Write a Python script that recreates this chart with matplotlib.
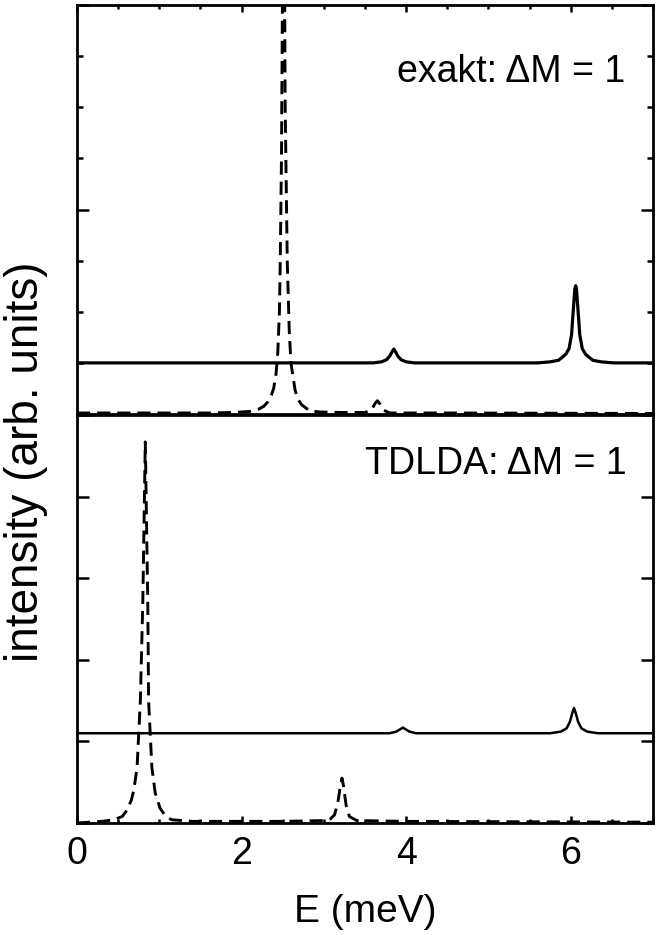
import matplotlib
matplotlib.use("Agg")
import matplotlib.pyplot as plt
from matplotlib.ticker import MultipleLocator

plt.rcParams["font.family"] = ["Liberation Sans", "DejaVu Sans"]

# exakt, dashed curve (E in meV, intensity)
exakt_dash_E = [0.0, 1.0, 1.6, 1.9, 2.1, 2.2, 2.27, 2.32, 2.36, 2.39, 2.42, 2.44, 2.46,
                2.47, 2.485, 2.50, 2.51, 2.52, 2.53, 2.555, 2.58, 2.60, 2.65, 2.68,
                2.73, 2.83, 2.95, 3.2, 3.5, 3.58, 3.62, 3.65, 3.68, 3.72, 3.8, 4.5, 7.0]
exakt_dash_I = [0.02, 0.02, 0.02, 0.03, 0.05, 0.09, 0.15, 0.24, 0.36, 0.5, 0.8, 1.2, 2.0,
                3.0, 5.0, 9.0, 10.0, 9.5, 6.0, 3.0, 1.6, 1.0, 0.47, 0.3,
                0.18, 0.06, 0.04, 0.03, 0.03, 0.08, 0.2, 0.26, 0.2, 0.08, 0.02, 0.02, 0.01]

# exakt, solid curve
exakt_solid_E = [0.0, 3.60, 3.70, 3.76, 3.80, 3.83, 3.85, 3.87, 3.90, 3.94, 4.00, 4.10,
                 5.60, 5.75, 5.85, 5.89, 5.94, 5.98, 6.01, 6.03, 6.05, 6.06, 6.07,
                 6.09, 6.11, 6.14, 6.18, 6.23, 6.27, 6.37, 6.52, 7.0]
exakt_solid_I = [1.0, 1.0, 1.02, 1.06, 1.13, 1.22, 1.27, 1.22, 1.13, 1.06, 1.02, 1.0,
                 1.0, 1.02, 1.05, 1.10, 1.17, 1.28, 1.55, 2.0, 2.45, 2.51, 2.45,
                 2.0, 1.55, 1.28, 1.17, 1.10, 1.05, 1.02, 1.0, 1.0]

# TDLDA, dashed curve
tdlda_dash_E = [0.0, 0.3, 0.45, 0.55, 0.61, 0.66, 0.69, 0.73, 0.77, 0.80, 0.83, 0.86,
                0.87, 0.91, 0.95, 1.01, 1.08, 1.15, 1.4, 2.5, 3.0, 3.08, 3.13, 3.17,
                3.20, 3.22, 3.24, 3.27, 3.31, 3.4, 4.0, 7.0]
tdlda_dash_I = [0.0, 0.02, 0.04, 0.08, 0.16, 0.28, 0.4, 0.68, 1.5, 2.72, 4.67, 2.72,
                1.5, 0.68, 0.37, 0.18, 0.08, 0.04, 0.02, 0.02, 0.03, 0.05, 0.1, 0.25,
                0.45, 0.55, 0.45, 0.22, 0.08, 0.03, 0.02, 0.01]

# TDLDA, solid curve
tdlda_solid_E = [0.0, 3.80, 3.88, 3.93, 3.96, 3.99, 4.04, 4.12, 5.75, 5.88, 5.95, 5.99,
                 6.02, 6.04, 6.06, 6.09, 6.13, 6.20, 6.33, 7.0]
tdlda_solid_I = [1.1, 1.1, 1.12, 1.15, 1.17, 1.15, 1.12, 1.1, 1.1, 1.12, 1.16, 1.24,
                 1.35, 1.41, 1.35, 1.24, 1.16, 1.12, 1.1, 1.1]

panel_labels = ["exakt: \u0394M = 1", "TDLDA: \u0394M = 1"]

DASH = (0, (4.5, 2.4))

fig = plt.figure(figsize=(6.66, 9.35), dpi=100)
ax_top = fig.add_axes([77 / 666, 1 - 414 / 935, 576 / 666, 409 / 935])
ax_bot = fig.add_axes([77 / 666, 1 - 823 / 935, 576 / 666, 408 / 935], sharex=ax_top)

# ─── top panel: exact ─────────────────────
ax_top.plot(exakt_dash_E, exakt_dash_I, color="black", lw=2.1, linestyle=DASH)
ax_top.plot(exakt_solid_E, exakt_solid_I, color="black", lw=2.3)
ax_top.set_ylim(0, 8)
ax_top.yaxis.set_major_locator(MultipleLocator(4))
ax_top.yaxis.set_minor_locator(MultipleLocator(1))
ax_top.text(0.952, 0.835, panel_labels[0], transform=ax_top.transAxes,
            ha="right", va="center", fontsize=27)

# ─── bottom panel: TDLDA ──────────────────
ax_bot.plot(tdlda_dash_E, tdlda_dash_I, color="black", lw=2.1, linestyle=DASH)
ax_bot.plot(tdlda_solid_E, tdlda_solid_I, color="black", lw=1.8)
ax_bot.set_ylim(0, 5)
ax_bot.yaxis.set_major_locator(MultipleLocator(1))
ax_bot.text(0.955, 0.88, panel_labels[1], transform=ax_bot.transAxes,
            ha="right", va="center", fontsize=27)

ax_bot.set_xlim(0, 7)
ax_bot.xaxis.set_major_locator(MultipleLocator(2))
ax_bot.xaxis.set_minor_locator(MultipleLocator(0.5))

for ax in (ax_top, ax_bot):
    for sp in ax.spines.values():
        sp.set_linewidth(2.0)
    ax.tick_params(which="both", direction="in", width=1.8, left=True, right=True,
                   labelleft=False)
    ax.tick_params(which="major", axis="y", length=8.5)
    ax.tick_params(which="minor", axis="y", length=4.3)
    ax.tick_params(which="major", axis="x", length=5)
    ax.tick_params(which="minor", axis="x", length=2.6)

ax_top.tick_params(which="both", axis="x", top=True, bottom=False, labelbottom=False)
ax_bot.tick_params(which="both", axis="x", top=False, bottom=True, labelsize=27, pad=9)

fig.text(365 / 666, 1 - 912 / 935, "E (meV)", ha="center", va="center", fontsize=28)
fig.text(26 / 666, 1 - 462 / 935, "intensity (arb. units)", ha="center", va="center",
         rotation=90, fontsize=33)

fig.savefig("out.png", dpi=100, facecolor="white")
